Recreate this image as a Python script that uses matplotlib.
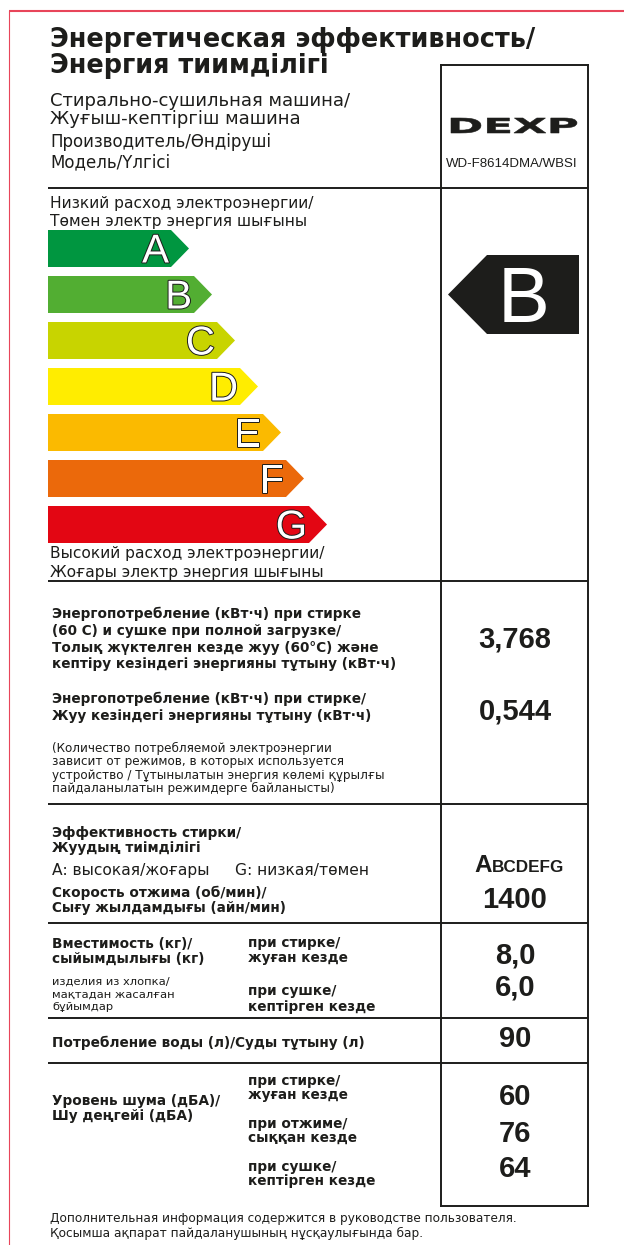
import matplotlib.pyplot as plt
from matplotlib.patches import Polygon, PathPatch
from matplotlib import patheffects
from matplotlib.textpath import TextPath
from matplotlib.font_manager import FontProperties
from matplotlib.transforms import Affine2D

# --- данные этикетки ---
classes = ['A', 'B', 'C', 'D', 'E', 'F', 'G']
class_colors = ['#009640', '#52ae32', '#c8d400', '#ffed00', '#fbba00', '#eb690b', '#e30613']
rated_class = 'B'
brand = 'DEXP'
model = 'WD-F8614DMA/WBSI'
energy_full = '3,768'
energy_wash = '0,544'
wash_class = 'A'
spin_speed = '1400'
capacity = ['8,0', '6,0']
water = '90'
noise = ['60', '76', '64']

title_lines = ['Энергетическая эффективность/', 'Энергия тиимділігі']
header_lines = ['Стирально-сушильная машина/', 'Жуғыш-кептіргіш машина',
                'Производитель/Өндіруші', 'Модель/Үлгісі']
low_lines = ['Низкий расход электроэнергии/', 'Төмен электр энергия шығыны']
high_lines = ['Высокий расход электроэнергии/', 'Жоғары электр энергия шығыны']
energy_full_lines = ['Энергопотребление (кВт·ч) при стирке',
                     '(60 С) и сушке при полной загрузке/',
                     'Толық жүктелген кезде жуу (60°С) және',
                     'кептіру кезіндегі энергияны тұтыну (кВт·ч)']
energy_wash_lines = ['Энергопотребление (кВт·ч) при стирке/',
                     'Жуу кезіндегі энергияны тұтыну (кВт·ч)']
note_lines = ['(Количество потребляемой электроэнергии',
              'зависит от режимов, в которых используется',
              'устройство / Тұтынылатын энергия көлемі құрылғы',
              'пайдаланылатын режимдерге байланысты)']
wash_lines = ['Эффективность стирки/', 'Жуудың тиімділігі']
scale_note = ['A: высокая/жоғары', 'G: низкая/төмен']
spin_lines = ['Скорость отжима (об/мин)/', 'Сығу жылдамдығы (айн/мин)']
capacity_lines = ['Вместимость (кг)/', 'сыйымдылығы (кг)']
cotton_lines = ['изделия из хлопка/', 'мақтадан жасалған', 'бұйымдар']
mode_wash = ['при стирке/', 'жуған кезде']
mode_spin = ['при отжиме/', 'сыққан кезде']
mode_dry = ['при сушке/', 'кептірген кезде']
water_line = 'Потребление воды (л)/Суды тұтыну (л)'
noise_lines = ['Уровень шума (дБА)/', 'Шу деңгейі (дБА)']
footer_lines = ['Дополнительная информация содержится в руководстве пользователя.',
                'Қосымша ақпарат пайдаланушының нұсқаулығында бар.']

INK = '#1d1d1b'
FONT = 'DejaVu Sans'
NUMFONT = 'Liberation Sans'

fig = plt.figure(figsize=(6.24, 12.45), dpi=100)
ax = fig.add_axes([0, 0, 1, 1])
ax.set_xlim(0, 624)
ax.set_ylim(1245, 0)
ax.axis('off')
renderer = fig.canvas.get_renderer()


def fit_size(text, width, weight='normal', family=FONT):
    t = ax.text(0, 0, text, fontsize=10, fontweight=weight, family=family)
    w = t.get_window_extent(renderer).width
    t.remove()
    return 10 * width / w


def put(x, ys, texts, size, weight='normal', family=FONT):
    for y, s in zip(ys, texts):
        ax.text(x, y, s, fontsize=size, fontweight=weight, family=family,
                color=INK, va='baseline', ha='left')


def num(y, s, size=21):
    ax.text(515, y, s, fontsize=size, fontweight='bold', family=NUMFONT,
            color=INK, va='baseline', ha='center')


# размеры шрифтов подогнаны по ширине строк
s_title = fit_size(title_lines[0], 485, 'bold')
s_head1 = fit_size(header_lines[0], 302)
s_head2 = fit_size(header_lines[2], 221)
s_scale = fit_size(low_lines[0], 264)
s_body = fit_size(energy_full_lines[0], 310, 'bold')
s_note = fit_size(note_lines[0], 281)
s_ag = fit_size(scale_note[0], 158)
s_tiny = fit_size(cotton_lines[0], 118)
s_foot = fit_size(footer_lines[0], 469)

# рамка
ax.plot([9, 624], [11, 11], color='#e8455a', lw=1.5, solid_capstyle='butt')
ax.plot([9, 9], [11, 1245], color='#e8455a', lw=0.8)

# линии таблицы
for y in [188, 581, 804, 923, 1018, 1063]:
    ax.plot([48, 588], [y, y], color=INK, lw=1.4, solid_capstyle='butt')
ax.plot([441, 441], [65, 1206], color=INK, lw=1.4)
ax.plot([588, 588], [65, 1206], color=INK, lw=1.4)
ax.plot([441, 588], [65, 65], color=INK, lw=1.4)
ax.plot([441, 588], [1206, 1206], color=INK, lw=1.4)

# заголовок
put(50, [47, 73], title_lines, s_title, 'bold')
put(50, [106, 124], header_lines[:2], s_head1)
put(50, [147, 167], header_lines[2:], s_head2)

# логотип (растянутый по ширине)
tp = TextPath((0, 0), brand, size=1, prop=FontProperties(family=FONT, weight='bold'))
bb = tp.get_extents()
tr = Affine2D().translate(-bb.x0, -bb.y0).scale(126 / bb.width, -15 / bb.height).translate(451, 133)
ax.add_patch(PathPatch(tr.transform_path(tp), color=INK, lw=0.4))
ax.text(512, 167, model, fontsize=fit_size(model, 131, family=NUMFONT), family=NUMFONT,
        color=INK, ha='center', va='baseline')

# шкала классов
put(50, [208, 226], low_lines, s_scale)
for i, (c, col) in enumerate(zip(classes, class_colors)):
    top = 230 + 46 * i
    bot = top + 37
    mid = (top + bot) / 2
    end = 171 + 23 * i
    tip = end + 18
    ax.add_patch(Polygon([(48, top), (end, top), (tip, mid), (end, bot), (48, bot)],
                         closed=True, facecolor=col, lw=0))
    ax.text(end - 2, mid + 14, c, fontsize=29, family=NUMFONT, color='white',
            ha='right', va='baseline',
            path_effects=[patheffects.withStroke(linewidth=1.4, foreground=INK)])
put(50, [558, 577], high_lines, s_scale)

# стрелка класса
k = classes.index(rated_class)
mid = 230 + 46 * k + 18.5
ax.add_patch(Polygon([(448, mid), (487, mid - 39.5), (579, mid - 39.5), (579, mid + 39.5),
                      (487, mid + 39.5)], closed=True, facecolor=INK, lw=0))
ax.text(524, mid + 27, rated_class, fontsize=56, family=NUMFONT, color='white',
        ha='center', va='baseline')

# энергопотребление
put(52, [618, 635, 652, 668], energy_full_lines, s_body, 'bold')
num(648, energy_full)
put(52, [703, 720], energy_wash_lines, s_body, 'bold')
num(720, energy_wash)
put(52, [752, 765, 779, 792], note_lines, s_note)

# эффективность стирки и отжим
put(52, [837, 852], wash_lines, s_body, 'bold')
ax.text(52, 875, scale_note[0], fontsize=s_ag, family=FONT, color=INK, va='baseline')
ax.text(235, 875, scale_note[1], fontsize=s_ag, family=FONT, color=INK, va='baseline')
put(52, [897, 912], spin_lines, s_body, 'bold')
ta = ax.text(474, 872, wash_class, fontsize=17.5, fontweight='bold', family=NUMFONT,
             color=INK, va='baseline')
xa = ax.transData.inverted().transform((ta.get_window_extent(renderer).x1, 0))[0]
ax.text(xa, 872, ''.join(c for c in classes if c != wash_class), fontsize=12.3,
        fontweight='bold', family=NUMFONT, color=INK, va='baseline')
num(908, spin_speed)

# вместимость
put(52, [948, 963], capacity_lines, s_body, 'bold')
put(52, [985, 998, 1010], cotton_lines, s_tiny)
put(248, [947, 962], mode_wash, s_body, 'bold')
put(248, [995, 1011], mode_dry, s_body, 'bold')
num(963, capacity[0])
num(996, capacity[1])

# вода
put(52, [1047], [water_line], s_body, 'bold')
num(1047, water)

# шум
put(52, [1105, 1120], noise_lines, s_body, 'bold')
put(248, [1085, 1099], mode_wash, s_body, 'bold')
put(248, [1128, 1142], mode_spin, s_body, 'bold')
put(248, [1171, 1185], mode_dry, s_body, 'bold')
num(1105, noise[0])
num(1142, noise[1])
num(1177, noise[2])

# сноска
put(50, [1222, 1237], footer_lines, s_foot)

fig.savefig('out.png', dpi=100, facecolor='white')
